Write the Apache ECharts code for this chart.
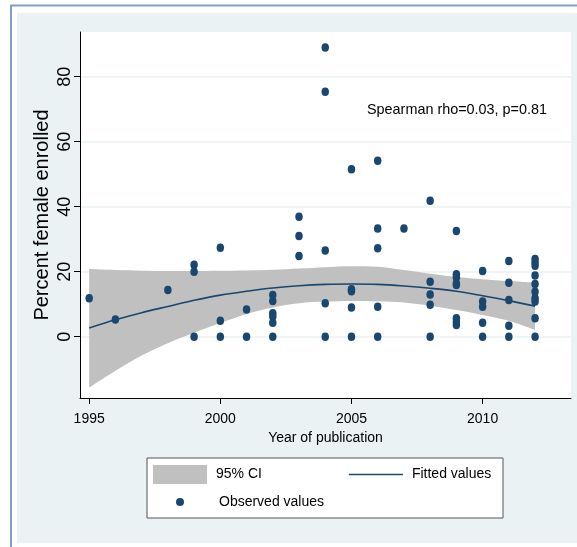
<!DOCTYPE html>
<html>
<head>
<meta charset="utf-8">
<script src="https://cdn.jsdelivr.net/npm/echarts@6/dist/echarts.min.js"></script>
</head>
<body style="margin:0;background:#fff">
<div id="container" style="width:577px;height:547px"></div>
<script>
// observed studies: year of publication / percent female enrolled
var obsYear = [1995, 1996, 1998,
  1999, 1999, 1999, 2000, 2000, 2000, 2001, 2001,
  2002, 2002, 2002, 2002, 2002, 2002, 2003, 2003, 2003,
  2004, 2004, 2004, 2004, 2004, 2005, 2005, 2005, 2005, 2005,
  2006, 2006, 2006, 2006, 2006, 2007,
  2008, 2008, 2008, 2008, 2008,
  2009, 2009, 2009, 2009, 2009, 2009, 2009, 2009,
  2010, 2010, 2010, 2010, 2010, 2011, 2011, 2011, 2011, 2011,
  2012, 2012, 2012, 2012, 2012, 2012, 2012, 2012, 2012, 2012];
var obsPct = [11.8, 5.3, 14.4,
  22.1, 20.0, 0, 27.4, 4.9, 0, 8.4, 0,
  12.8, 11.0, 7.2, 6.2, 4.3, 0, 36.9, 31.0, 24.8,
  89.0, 75.4, 26.5, 10.3, 0, 51.5, 14.6, 14.0, 9.0, 0,
  54.1, 33.3, 27.2, 9.2, 0, 33.3,
  41.8, 16.9, 13.0, 9.8, 0,
  32.5, 19.2, 18.2, 16.4, 15.9, 5.7, 4.6, 3.6,
  20.2, 10.8, 9.2, 4.3, 0, 23.3, 16.6, 11.3, 3.4, 0,
  23.9, 22.8, 21.8, 18.8, 16.2, 13.8, 11.8, 10.8, 5.7, 0];

// fitted curve and 95% CI, read at each year
var fitYear = [1995, 1996, 1997, 1998, 1999, 2000, 2001, 2002, 2003,
  2004, 2005, 2006, 2007, 2008, 2009, 2010, 2011, 2012];
var fitted = [2.7, 5.2, 7.4, 9.3, 11.2, 12.8, 14.0, 15.0, 15.7,
  16.1, 16.2, 16.1, 15.6, 14.9, 14.0, 12.6, 11.1, 9.4];
var ciLower = [-15.7, -10.5, -5.8, -2.0, 1.2, 4.2, 7.0, 9.0, 10.3,
  10.8, 11.0, 10.9, 10.5, 9.5, 8.2, 6.7, 4.9, 2.1];
var ciUpper = [20.8, 20.5, 20.3, 20.2, 20.2, 20.3, 20.4, 20.6, 21.0,
  21.4, 21.7, 21.5, 20.5, 19.4, 18.4, 17.7, 17.1, 16.6];

var xTicks = [1995, 2000, 2005, 2010];
var yTicks = [0, 20, 40, 60, 80];

var navy = '#1a476f';
var font = 'Liberation Sans';

var chart = echarts.init(document.getElementById('container'), null, { renderer: 'canvas' });

// band rows are [value, year] so the stack runs on the y values
var bandBase = fitYear.map(function (y, i) { return [ciLower[i], y]; });
var bandSpan = fitYear.map(function (y, i) { return [ciUpper[i] - ciLower[i], y]; });

var option = {
  backgroundColor: '#fff',
  animation: false,
  textStyle: { fontFamily: font, color: '#000' },
  grid: {
    left: 80, right: 6, top: 32, bottom: 149,
    show: true, backgroundColor: '#fff', borderWidth: 0
  },
  graphic: [
    { type: 'rect', z: -10, silent: true,
      shape: { x: 17, y: 13, width: 570, height: 530 },
      style: { fill: '#eaf2f3' } },
    { type: 'rect', z: -9, silent: true,
      shape: { x: 11, y: 5.5, width: 600, height: 600 },
      style: { fill: null, stroke: '#7f9fc9', lineWidth: 2 } },
    { type: 'rect', z: 1, silent: true,
      shape: { x: 147, y: 458, width: 356, height: 60 },
      style: { fill: '#fff', stroke: '#555', lineWidth: 1 } },
    { type: 'text', z: 5, left: 367, top: 103,
      style: { text: 'Spearman rho=0.03, p=0.81', font: '14.4px "Liberation Sans"', fill: '#000' } }
  ],
  legend: [
    {
      left: 153, top: 465, padding: 0, itemWidth: 54, itemHeight: 19, itemGap: 87,
      textStyle: { fontSize: 14, fontFamily: font, color: '#000', padding: [0, 0, 0, 4] },
      data: [
        { name: '95% CI', icon: 'rect' },
        { name: 'Fitted values', icon: 'path://M0,0 L54,0 L54,1.6 L0,1.6 Z' }
      ]
    },
    {
      left: 176, top: 495, padding: 0, itemWidth: 54, itemHeight: 8,
      textStyle: { fontSize: 14, fontFamily: font, color: '#000', padding: [0, 0, 0, 7] },
      data: [{ name: 'Observed values', icon: 'circle' }]
    }
  ],
  xAxis: {
    type: 'value', min: 1994.65, max: 2013.37,
    name: 'Year of publication', nameLocation: 'middle', nameGap: 32,
    nameTextStyle: { fontSize: 14, fontFamily: font },
    axisLine: { onZero: false, lineStyle: { color: '#000', width: 1 } },
    axisTick: { show: true, length: 6, customValues: xTicks, lineStyle: { color: '#000' } },
    axisLabel: {
      customValues: xTicks, fontSize: 14, margin: 14, color: '#000',
      formatter: function (v) { return String(v); }
    },
    splitLine: { show: false }
  },
  yAxis: {
    type: 'value', min: -18.86, max: 93.75,
    name: 'Percent female enrolled', nameLocation: 'middle', nameGap: 28,
    nameMoveOverlap: false,
    nameTextStyle: { fontSize: 20, fontFamily: font },
    axisLine: { show: true, onZero: false, lineStyle: { color: '#000', width: 1 } },
    axisTick: { show: true, length: 6, customValues: yTicks, lineStyle: { color: '#000' } },
    axisLabel: { customValues: yTicks, fontSize: 18, rotate: 90, margin: 6, color: '#000' },
    splitLine: { show: true, lineStyle: { color: '#eaf2f3', width: 1.5 } }
  },
  series: [
    {
      name: 'ciBase', type: 'line', stack: 'ci', stackStrategy: 'all',
      encode: { x: 1, y: 0 },
      symbol: 'none', smooth: 0.3, lineStyle: { opacity: 0 }, z: 2, silent: true,
      data: bandBase
    },
    {
      name: '95% CI', type: 'line', stack: 'ci', stackStrategy: 'all',
      encode: { x: 1, y: 0 },
      symbol: 'none', smooth: 0.3, lineStyle: { width: 0, opacity: 0 }, z: 2, silent: true,
      itemStyle: { color: '#c0c0c0' },
      areaStyle: { color: '#c0c0c0', opacity: 1 },
      data: bandSpan
    },
    {
      name: 'Fitted values', type: 'line', symbol: 'none', smooth: 0.3, z: 3,
      itemStyle: { color: navy },
      lineStyle: { color: navy, width: 1.6 },
      data: fitYear.map(function (y, i) { return [y, fitted[i]]; })
    },
    {
      name: 'Observed values', type: 'scatter', symbol: 'circle', symbolSize: [7.5, 8.5], z: 4,
      itemStyle: { color: navy, opacity: 1 },
      data: obsYear.map(function (y, i) { return [y, obsPct[i]]; })
    }
  ]
};

chart.setOption(option);
window.addEventListener('resize', chart.resize);
</script>
</body>
</html>
